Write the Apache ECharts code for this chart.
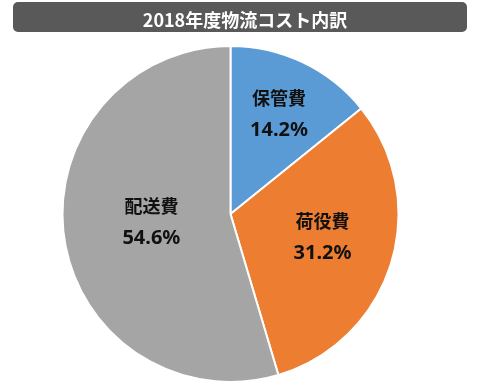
<!DOCTYPE html>
<html><head><meta charset="utf-8">
<script src="https://cdn.jsdelivr.net/npm/echarts@6/dist/echarts.min.js"></script>
<style>html,body{margin:0;padding:0;background:#fff}#c{width:479px;height:390px}</style>
</head><body><div id="c"></div>
<script>
const titleText = '2018年度物流コスト内訳';
const categories = ['保管費', '荷役費', '配送費'];
const values = [14.2, 31.2, 54.6];
const colors = ['#5B9BD5', '#ED7D31', '#A5A5A5'];
const labelOffsets = [[11, -21], [9, -3], [7, -4]];

const chart = echarts.init(document.getElementById('c'), null, {renderer: 'canvas'});
const font = '"Noto Sans CJK JP", "Noto Sans", sans-serif';
chart.setOption({
  animation: false,
  title: {
    text: titleText, left: 240, top: 6, textAlign: 'center',
    textStyle: {color: '#fff', fontSize: 18, fontWeight: 'bold', fontFamily: font}
  },
  graphic: [{
    type: 'rect', z: -1, left: 13, top: 2,
    shape: {width: 454, height: 30, r: 5},
    style: {fill: '#595959'}
  }],
  series: [{
    type: 'pie',
    center: [230.5, 214],
    radius: [0, 168],
    startAngle: 90,
    clockwise: true,
    data: categories.map((n, i) => ({
      name: n, value: values[i],
      itemStyle: {color: colors[i]},
      label: {offset: labelOffsets[i]}
    })),
    itemStyle: {borderColor: '#fff', borderWidth: 2},
    label: {
      show: true, position: 'inside',
      formatter: p => '{n|' + p.name + '}\n{p|' + p.value.toFixed(1) + '%}',
      rich: {
        n: {color: '#111', fontSize: 18, fontWeight: 'bold', fontFamily: font, lineHeight: 32},
        p: {color: '#111', fontSize: 20, fontWeight: 'bold', fontFamily: '"Noto Sans", sans-serif', lineHeight: 32}
      }
    },
    labelLine: {show: false}
  }]
});
</script></body></html>
